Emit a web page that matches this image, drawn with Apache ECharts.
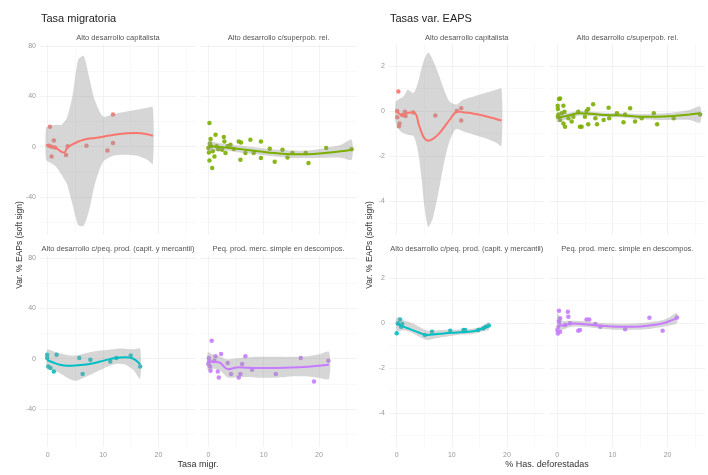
<!DOCTYPE html>
<html lang="es">
<head>
<meta charset="UTF-8">
<script src="https://cdn.jsdelivr.net/npm/echarts@6/dist/echarts.min.js"></script>
<style>
  html, body { margin: 0; padding: 0; background: #fff; }
  #chart { width: 708px; height: 475px; }
</style>
</head>
<body>
<div id="chart"></div>
<script>
// facet labels and colours (ggplot hue palette)
const facetNames = [
  "Alto desarrollo capitalista",
  "Alto desarrollo c/superpob. rel.",
  "Alto desarrollo c/peq. prod. (capit. y mercantil)",
  "Peq. prod. merc. simple en descompos."
];
const facetColors = ["#F8766D", "#7CAE00", "#00BFC4", "#C77CFF"];

// tick labels
const xTicks = [0, 10, 20];
const xMinor = [0, 5, 10, 15, 20, 25];
const migYTicks = [-40, 0, 40, 80];
const migYMinor = [-60, -40, -20, 0, 20, 40, 60, 80];
const defYTicks = [-4, -2, 0, 2];
const defYMinor = [-5, -4, -3, -2, -1, 0, 1, 2];

// ---- Tasa migratoria ----
const migCapPtsX = [0.4, 0.2, 0.7, 1.1, 0.7, 1.3, 3.3, 3.6, 7.0, 11.8, 11.8, 10.8];
const migCapPtsY = [15.8, 0.8, 0.0, 5.0, -7.7, -0.5, -6.6, 0.3, 0.8, 25.6, 2.9, -2.9];
const migCapFitX = [-0.3, 0.5, 1.5, 2.5, 3.0, 3.5, 4.5, 5.5, 6.5, 7.5, 8.5, 10, 12, 14, 16, 18, 19];
const migCapFitY = [1.5, 0.5, -1, -4, -4.5, -1, 2, 4, 5.5, 6.5, 7, 8, 9.5, 10.5, 11, 10, 8.7];
const migCapHi = [15, 16.6, 17.4, 17.4, 20, 23, 41, 69, 72, 55, 37, 24, 26, 27.7, 29.3, 31, 31];
const migCapLo = [-10.3, -12.7, -15.8, -22.2, -26, -30, -46, -62, -62.6, -50, -30, -12, -7, -6.3, -7, -10.3, -13.5];

const migSupPtsX = [0.2, 1.3, 0.4, 0.0, 0.5, 0.2, 0.7, 1.1, 1.5, 2.8, 2.9, 3.1, 2.5, 4.0, 4.6, 5.5, 5.9, 5.8, 6.7, 7.6, 8.2, 9.5, 9.5, 11.1, 12.0, 13.4, 14.3, 15.2, 17.6, 18.1, 21.3, 0.3, 0.8, 1.8, 3.5, 0.1, 25.9];
const migSupPtsY = [18.8, 9.5, 6.1, -1.0, 0.3, -11.0, -16.9, -7.7, 0.3, 7.7, 4.2, -5.0, -2.4, 1.6, -1.8, 4.2, 3.4, -10.3, -5.0, 5.5, -5.0, 4.2, -9.0, -1.6, -11.9, -2.4, -8.5, -5.0, -5.0, -12.9, -1.0, 2.5, -3.5, -2.0, 0.5, -4.5, -2.0];
const migSupFitX = [0, 3, 6, 9, 12, 15, 18, 21, 24, 25.9];
const migSupFitY = [0.5, -0.5, -2, -3.5, -5, -6, -6, -5, -3.6, -2.4];
const migSupHi = [4, 2, 0.8, -0.8, -2.2, -3, -3, -1.2, 1.5, 5.5];
const migSupLo = [-3, -3, -4.8, -6.2, -7.8, -9, -9, -8.8, -8.7, -10.3];

const migPeqPtsX = [-0.1, -0.1, 0.1, 0.5, 1.1, 1.6, 5.7, 6.3, 7.7, 11.3, 12.4, 15.0, 16.7];
const migPeqPtsY = [3.2, 0.5, -6.1, -7.4, -10.1, 3.2, 0.5, -12.1, -0.8, -2.1, 0.5, 2.6, -6.1];
const migPeqFitX = [-0.1, 1, 2, 3.5, 5, 6.5, 8, 9.5, 11, 12.5, 14, 15.5, 16.7];
const migPeqFitY = [-1, -3, -4.5, -5.5, -5.3, -4.8, -3.8, -2.2, -0.5, 0.8, 1.2, 0, -4.5];
const migPeqHi = [7, 6, 4.5, 3, 2.5, 4, 5.5, 6.5, 7.2, 8, 8, 7.5, 8];
const migPeqLo = [-8, -9, -11, -15, -17.5, -15, -12, -9, -6, -4, -4.5, -9, -16];

const migSimPtsX = [0.6, 0.1, 0.0, 0.3, 1.3, 1.1, 1.7, 1.9, 2.3, 3.5, 4.1, 5.5, 5.8, 6.1, 6.7, 7.9, 12.2, 16.7, 19.1, 21.7, 0.2, 0.4];
const migSimPtsY = [14.3, 0.5, -4.2, -6.1, 1.9, -1.6, -10.1, -14.8, 3.7, -3.4, -12.1, -14.8, -12.1, -4.2, 1.9, -8.7, -12.1, 0.5, -18.0, -1.6, -2.0, -9.5];
const migSimFitX = [-0.1, 1, 2, 3, 3.6, 4.5, 5.5, 7, 9, 12, 15, 18, 20, 21.8];
const migSimFitY = [-2, -2.5, -3, -7, -8.3, -7.5, -6.8, -7.2, -7.4, -7.3, -7, -6.3, -5.6, -4.8];
const migSimHi = [5, 3, 2, 0, -0.5, 0, 0.5, 1, 1.5, 1.5, 1.5, 2, 3.5, 5.5];
const migSimLo = [-9, -8, -9, -13, -15, -15, -14.5, -14.5, -15, -15, -14, -14, -15, -16];

// ---- % Has. deforestadas ----
const defCapPtsX = [0.3, 0.1, 0.1, 1.0, 0.5, 0.4, 1.5, 1.6, 3.0, 7.0, 10.9, 11.7, 11.7];
const defCapPtsY = [0.87, 0, -0.28, -0.18, -0.55, -0.68, -0.03, -0.22, -0.07, -0.2, 0, 0.12, -0.42];
const defCapFitX = [-0.2, 0.5, 1, 1.5, 2, 3, 3.5, 4, 4.5, 5, 5.7, 6.5, 7.5, 8.5, 9.5, 10.5, 11, 12, 14, 16, 18, 19];
const defCapFitY = [0, -0.12, -0.2, -0.15, -0.08, -0.05, -0.15, -0.6, -0.95, -1.2, -1.32, -1.25, -1.05, -0.75, -0.42, -0.1, -0.02, -0.05, -0.12, -0.22, -0.35, -0.42];
const defCapHi = [0.4, 0.55, 0.6, 0.75, 0.95, 0.8, 1.0, 1.4, 1.9, 2.3, 2.6, 2.3, 1.7, 1.0, 0.45, 0.3, 0.3, 0.5, 0.65, 0.8, 0.95, 1.0];
const defCapLo = [-0.5, -0.85, -0.95, -1.0, -1.05, -1.1, -1.4, -2.0, -3.0, -4.2, -5.15, -4.8, -3.7, -2.4, -1.4, -0.85, -0.8, -0.9, -1.05, -1.2, -1.4, -1.55];

const defSupPtsX = [0.3, 0.07, 0.1, 1.1, 1.3, 0.1, 0.5, 1.1, 1.4, 2.0, 2.6, 2.9, 3.8, 4.4, 5.0, 5.3, 5.6, 5.6, 6.5, 6.9, 7.2, 8.4, 9.3, 9.4, 10.8, 12.0, 12.3, 13.2, 14.1, 15.3, 17.5, 18.1, 21.1, 25.9, 0.5, 4.1, 0.2, 0.8];
const defSupPtsY = [0.53, 0.24, 0.09, 0.24, -0.03, -0.25, -0.4, -0.55, -0.7, -0.32, -0.47, -0.25, -0.03, -0.7, -0.25, 0.0, 0.09, -0.59, 0.3, -0.32, -0.59, -0.4, 0.15, -0.32, -0.1, -0.5, -0.15, 0.12, -0.47, -0.32, -0.1, -0.59, -0.32, -0.15, 0.56, -0.7, -0.15, -0.1];
const defSupFitX = [0, 2, 4, 6, 9, 12, 15, 18, 21, 24, 25.9];
const defSupFitY = [-0.3, -0.2, -0.1, -0.12, -0.18, -0.2, -0.25, -0.25, -0.22, -0.15, -0.1];
const defSupHi = [-0.1, -0.08, 0.0, -0.02, -0.08, -0.1, -0.13, -0.12, -0.06, 0.05, 0.2];
const defSupLo = [-0.5, -0.32, -0.2, -0.22, -0.28, -0.3, -0.37, -0.4, -0.4, -0.4, -0.52];

const defPeqPtsX = [0.6, 0.2, 0.0, 1.0, 0.8, 5.1, 6.4, 9.7, 12.1, 12.4, 14.8, 15.7, 16.1, 16.7];
const defPeqPtsY = [0.16, -0.01, -0.45, -0.04, -0.16, -0.53, -0.39, -0.34, -0.31, -0.31, -0.31, -0.24, -0.16, -0.11];
const defPeqFitX = [0, 1.2, 2.5, 4, 5.5, 7, 8.5, 10, 11.5, 13, 14.5, 16, 16.7];
const defPeqFitY = [-0.04, -0.16, -0.28, -0.42, -0.53, -0.5, -0.46, -0.43, -0.41, -0.39, -0.33, -0.2, -0.13];
const defPeqHi = [0.25, 0.12, 0.02, -0.15, -0.33, -0.33, -0.3, -0.3, -0.29, -0.27, -0.22, -0.08, 0.05];
const defPeqLo = [-0.35, -0.32, -0.4, -0.6, -0.75, -0.68, -0.62, -0.56, -0.52, -0.5, -0.45, -0.33, -0.32];

const defSimPtsX = [0.3, 1.9, 0.5, 0.3, 2.0, 0.2, 0.5, 0.1, 1.4, 2.3, 3.8, 5.3, 5.8, 6.9, 7.8, 12.3, 16.7, 19.1, 21.7, 0.0, 4.1];
const defSimPtsY = [0.55, 0.5, 0.21, 0.06, 0.28, -0.16, -0.39, -0.46, -0.09, -0.01, -0.34, 0.16, 0.16, -0.04, -0.16, -0.28, 0.24, -0.34, 0.25, -0.31, -0.31];
const defSimFitX = [0, 0.5, 1, 2, 3, 5, 8, 11, 14, 17, 19, 20.5, 21.7];
const defSimFitY = [0.15, -0.05, -0.12, -0.05, -0.02, -0.05, -0.12, -0.16, -0.16, -0.1, -0.02, 0.1, 0.22];
const defSimHi = [0.45, 0.22, 0.1, 0.1, 0.1, 0.08, 0.0, -0.03, -0.02, 0.05, 0.12, 0.28, 0.45];
const defSimLo = [-0.15, -0.3, -0.3, -0.2, -0.15, -0.18, -0.25, -0.3, -0.3, -0.25, -0.18, -0.1, 0.0];

// ---------------------------------------------------------------
const FONT = "Liberation Sans, Arial, sans-serif";
const zip = (xs, ys) => xs.map((x, i) => [x, ys[i]]);

const facets = [
  { pts: [migCapPtsX, migCapPtsY], fit: [migCapFitX, migCapFitY], lo: migCapLo, hi: migCapHi },
  { pts: [migSupPtsX, migSupPtsY], fit: [migSupFitX, migSupFitY], lo: migSupLo, hi: migSupHi },
  { pts: [migPeqPtsX, migPeqPtsY], fit: [migPeqFitX, migPeqFitY], lo: migPeqLo, hi: migPeqHi },
  { pts: [migSimPtsX, migSimPtsY], fit: [migSimFitX, migSimFitY], lo: migSimLo, hi: migSimHi },
  { pts: [defCapPtsX, defCapPtsY], fit: [defCapFitX, defCapFitY], lo: defCapLo, hi: defCapHi },
  { pts: [defSupPtsX, defSupPtsY], fit: [defSupFitX, defSupFitY], lo: defSupLo, hi: defSupHi },
  { pts: [defPeqPtsX, defPeqPtsY], fit: [defPeqFitX, defPeqFitY], lo: defPeqLo, hi: defPeqHi },
  { pts: [defSimPtsX, defSimPtsY], fit: [defSimFitX, defSimFitY], lo: defSimLo, hi: defSimHi }
];

// panel layout: left of each column, width, y range
const panels = [
  { cols: [40, 200.6], width: 156, yMin: -70, yMax: 81.5, ticks: migYTicks, minor: migYMinor },
  { cols: [389, 549.6], width: 155.5, yMin: -5.51, yMax: 2.98, ticks: defYTicks, minor: defYMinor }
];
const rowTops = [44, 256];
const rowHeight = 191;

const grids = [], xAxes = [], yAxes = [], series = [], graphics = [];

facets.forEach((f, g) => {
  const p = panels[Math.floor(g / 4)];
  const k = g % 4, col = k % 2, row = Math.floor(k / 2);
  const left = p.cols[col], top = rowTops[row];
  grids.push({ left: left, top: top, width: p.width, height: rowHeight });

  xAxes.push({
    type: "value", gridIndex: g, min: -1.4, max: 26.8,
    axisLine: { show: false },
    axisTick: { show: false, customValues: xMinor },
    axisLabel: { show: row === 1, customValues: xTicks, color: "#999", fontSize: 7, margin: 5, fontFamily: FONT },
    splitLine: { show: true, lineStyle: { color: ["#efefef", "#f7f7f7"], width: 0.8 } }
  });
  yAxes.push({
    type: "value", gridIndex: g, min: p.yMin, max: p.yMax,
    axisLine: { show: false },
    axisTick: { show: false, customValues: p.minor },
    axisLabel: { show: col === 0, customValues: p.ticks, color: "#999", fontSize: 7, margin: 4, fontFamily: FONT },
    splitLine: { show: true, lineStyle: { color: ["#f7f7f7", "#efefef"], width: 0.8 } }
  });

  const color = facetColors[k];
  series.push({
    type: "scatter", xAxisIndex: g, yAxisIndex: g,
    data: zip(f.pts[0], f.pts[1]),
    symbolSize: 4.5, itemStyle: { color: color, opacity: 0.9 }, z: 2
  });
  series.push({
    type: "custom", xAxisIndex: g, yAxisIndex: g, silent: true, z: 3,
    data: [[f.fit[0][0], f.lo[0]]],
    renderItem: (params, api) => {
      const pts = [];
      f.fit[0].forEach((x, i) => pts.push(api.coord([x, f.hi[i]])));
      for (let i = f.fit[0].length - 1; i >= 0; i--) pts.push(api.coord([f.fit[0][i], f.lo[i]]));
      return { type: "polygon", shape: { points: pts, smooth: 0.25 }, style: { fill: "rgba(153,153,153,0.4)" } };
    }
  });
  series.push({
    type: "line", xAxisIndex: g, yAxisIndex: g,
    data: zip(f.fit[0], f.fit[1]),
    smooth: 0.4, symbol: "none", z: 4,
    lineStyle: { color: color, width: 2 }
  });

  // strip label
  graphics.push({
    type: "text", x: left + p.width / 2, y: row === 0 ? 37.5 : 249,
    style: { text: facetNames[k], fill: "#555", font: "7.5px " + FONT, textAlign: "center", textVerticalAlign: "middle" }
  });
});

// titles and axis titles
const texts = [
  { text: "Tasa migratoria", x: 41, y: 19, size: 11, align: "left", rot: 0, color: "#222" },
  { text: "Tasas var. EAPS", x: 390, y: 19, size: 11, align: "left", rot: 0, color: "#222" },
  { text: "Tasa migr.", x: 198, y: 465, size: 9, align: "center", rot: 0, color: "#333" },
  { text: "% Has. deforestadas", x: 547, y: 465, size: 9, align: "center", rot: 0, color: "#333" },
  { text: "Var. % EAPs (soft sign)", x: 20, y: 245, size: 8.5, align: "center", rot: Math.PI / 2, color: "#333" },
  { text: "Var. % EAPs (soft sign)", x: 370, y: 245, size: 8.5, align: "center", rot: Math.PI / 2, color: "#333" }
];
texts.forEach(t => graphics.push({
  type: "text", x: t.x, y: t.y, rotation: t.rot,
  style: { text: t.text, fill: t.color, font: t.size + "px " + FONT, textAlign: t.align, textVerticalAlign: "middle" }
}));

const chart = echarts.init(document.getElementById("chart"), null, { renderer: "canvas" });
chart.setOption({
  animation: false,
  backgroundColor: "#fff",
  grid: grids,
  xAxis: xAxes,
  yAxis: yAxes,
  series: series,
  graphic: graphics
});
</script>
</body>
</html>
